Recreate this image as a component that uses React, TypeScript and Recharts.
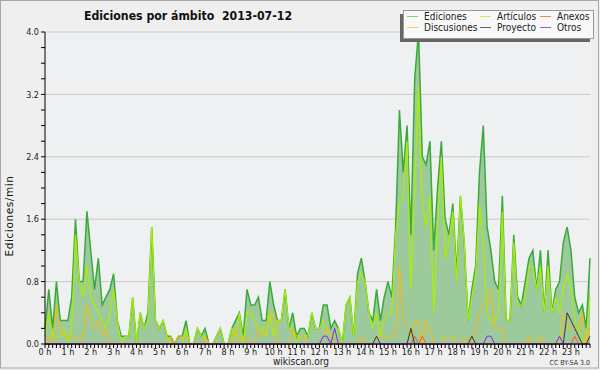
import React from 'react';
import { ComposedChart, Area, Line, XAxis, YAxis, CartesianGrid } from 'recharts';

// 10-minute buckets, 144 per day (edits per minute)
const hourLabels = [
  '0 h', '1 h', '2 h', '3 h', '4 h', '5 h', '6 h', '7 h', '8 h', '9 h', '10 h', '11 h',
  '12 h', '13 h', '14 h', '15 h', '16 h', '17 h', '18 h', '19 h', '20 h', '21 h', '22 h', '23 h',
];
const yTickLabels = ['0.0', '0.8', '1.6', '2.4', '3.2', '4.0'];

const ediciones = [
  0.2, 0.7, 0.2, 0.8, 0.3, 0.3, 0.3, 0.6, 1.6, 0.8, 0.8, 1.7,
  1.2, 0.7, 1.1, 0.5, 0.6, 0.7, 0.9, 0.3, 0.1, 0.1, 0.1, 0.6,
  0.0, 0.4, 0.2, 0.4, 1.5, 0.3, 0.2, 0.3, 0.1, 0.1, 0.0, 0.1,
  0.1, 0.3, 0.0, 0.0, 0.2, 0.1, 0.2, 0.0, 0.0, 0.1, 0.2, 0.0,
  0.0, 0.2, 0.3, 0.4, 0.1, 0.7, 0.5, 0.5, 0.6, 0.3, 0.3, 0.8,
  0.5, 0.3, 0.3, 0.7, 0.2, 0.4, 0.1, 0.2, 0.2, 0.1, 0.4, 0.2,
  0.2, 0.5, 0.5, 0.2, 0.3, 0.2, 0.0, 0.5, 0.6, 0.1, 0.9, 1.1,
  0.8, 0.4, 0.3, 0.7, 0.3, 0.6, 0.8, 0.6, 1.5, 3.0, 2.2, 2.8,
  1.4, 3.4, 4.0, 2.4, 2.3, 2.6, 1.2, 2.0, 2.6, 1.6, 1.4, 1.8,
  0.9, 1.9, 1.3, 0.3, 0.7, 1.0, 2.2, 2.8, 1.5, 1.2, 0.8, 0.7,
  1.9, 0.3, 0.3, 1.4, 0.6, 0.5, 0.8, 1.1, 1.2, 0.7, 1.2, 0.4,
  1.2, 0.4, 0.7, 0.8, 1.3, 1.5, 1.2, 0.6, 0.4, 0.5, 0.2, 1.1,
];

const articulos = [
  0.1, 0.4, 0.1, 0.1, 0.1, 0.2, 0.0, 0.2, 1.4, 0.8, 0.6, 1.0,
  0.6, 0.5, 0.4, 0.3, 0.2, 0.4, 0.7, 0.3, 0.0, 0.1, 0.1, 0.6,
  0.0, 0.4, 0.2, 0.3, 1.5, 0.3, 0.2, 0.3, 0.1, 0.0, 0.0, 0.0,
  0.0, 0.2, 0.0, 0.0, 0.2, 0.1, 0.1, 0.0, 0.0, 0.1, 0.2, 0.0,
  0.0, 0.2, 0.1, 0.4, 0.0, 0.4, 0.4, 0.3, 0.2, 0.2, 0.1, 0.4,
  0.1, 0.3, 0.3, 0.7, 0.2, 0.2, 0.0, 0.1, 0.1, 0.1, 0.4, 0.2,
  0.2, 0.3, 0.2, 0.1, 0.1, 0.2, 0.0, 0.5, 0.6, 0.1, 0.8, 0.9,
  0.8, 0.4, 0.2, 0.4, 0.1, 0.3, 0.4, 0.4, 1.4, 1.8, 1.9, 2.6,
  0.7, 2.0, 3.3, 1.8, 1.5, 1.9, 0.4, 1.5, 2.4, 1.1, 1.3, 1.7,
  0.8, 1.9, 1.3, 0.3, 0.6, 0.9, 1.8, 1.3, 0.4, 0.3, 0.3, 0.4,
  1.7, 0.3, 0.3, 1.3, 0.5, 0.5, 0.6, 1.0, 1.0, 0.7, 1.0, 0.4,
  1.0, 0.4, 0.6, 0.4, 0.7, 0.9, 0.7, 0.3, 0.2, 0.0, 0.1, 0.6,
];

const discusiones = [
  0.0, 0.1, 0.0, 0.5, 0.2, 0.1, 0.1, 0.1, 0.1, 0.0, 0.1, 0.5,
  0.3, 0.2, 0.3, 0.1, 0.2, 0.0, 0.0, 0.0, 0.0, 0.0, 0.0, 0.0,
  0.0, 0.0, 0.0, 0.0, 0.0, 0.0, 0.0, 0.0, 0.0, 0.1, 0.0, 0.1,
  0.1, 0.1, 0.0, 0.0, 0.0, 0.0, 0.1, 0.0, 0.0, 0.0, 0.0, 0.0,
  0.0, 0.0, 0.2, 0.0, 0.1, 0.1, 0.0, 0.0, 0.2, 0.1, 0.2, 0.4,
  0.4, 0.0, 0.0, 0.0, 0.0, 0.2, 0.1, 0.1, 0.1, 0.0, 0.0, 0.0,
  0.0, 0.1, 0.2, 0.1, 0.0, 0.0, 0.0, 0.0, 0.0, 0.0, 0.0, 0.1,
  0.0, 0.0, 0.0, 0.1, 0.1, 0.1, 0.1, 0.1, 0.1, 1.0, 0.3, 0.2,
  0.1, 0.3, 0.3, 0.0, 0.3, 0.2, 0.0, 0.0, 0.0, 0.1, 0.1, 0.1,
  0.0, 0.0, 0.1, 0.0, 0.0, 0.2, 0.4, 0.5, 0.6, 0.7, 0.2, 0.2,
  0.2, 0.0, 0.0, 0.0, 0.0, 0.0, 0.0, 0.1, 0.0, 0.0, 0.1, 0.0,
  0.0, 0.0, 0.0, 0.0, 0.4, 0.2, 0.2, 0.2, 0.2, 0.4, 0.0, 0.2,
];

const anexos = [
  0, 0, 0, 0, 0, 0, 0, 0, 0, 0, 0, 0,
  0, 0, 0, 0, 0, 0, 0, 0, 0, 0, 0, 0,
  0, 0, 0, 0, 0, 0, 0, 0, 0, 0, 0, 0,
  0, 0, 0, 0, 0, 0, 0, 0, 0, 0, 0, 0,
  0, 0, 0, 0, 0, 0, 0, 0, 0, 0, 0, 0,
  0, 0, 0, 0, 0, 0, 0, 0, 0, 0, 0, 0,
  0, 0, 0, 0, 0, 0, 0, 0, 0, 0, 0, 0,
  0, 0, 0, 0, 0, 0, 0, 0, 0, 0, 0, 0,
  0, 0.1, 0, 0.1, 0, 0, 0, 0, 0, 0, 0, 0,
  0, 0, 0, 0, 0, 0, 0, 0, 0, 0, 0, 0,
  0, 0, 0, 0, 0, 0, 0, 0, 0, 0, 0, 0,
  0, 0, 0, 0, 0, 0, 0, 0.1, 0, 0, 0, 0,
];

const proyecto = [
  0, 0, 0, 0, 0, 0, 0, 0, 0, 0, 0, 0,
  0, 0, 0, 0, 0, 0, 0, 0, 0, 0, 0, 0,
  0, 0, 0, 0, 0, 0, 0, 0, 0, 0, 0, 0,
  0, 0, 0, 0, 0, 0, 0, 0, 0, 0, 0, 0,
  0, 0, 0, 0, 0, 0, 0, 0, 0, 0, 0, 0,
  0, 0, 0, 0, 0, 0, 0, 0, 0, 0, 0, 0,
  0, 0, 0, 0, 0, 0, 0, 0, 0, 0, 0, 0,
  0, 0, 0, 0.1, 0, 0, 0, 0, 0, 0, 0, 0,
  0.2, 0, 0, 0, 0, 0, 0, 0, 0, 0, 0, 0,
  0, 0, 0, 0, 0.1, 0, 0, 0, 0, 0, 0, 0,
  0, 0, 0, 0, 0, 0, 0, 0, 0, 0, 0, 0,
  0, 0, 0, 0, 0, 0.4, 0.3, 0.2, 0.1, 0, 0, 0.1,
];

const otros = [
  0, 0, 0, 0, 0, 0, 0, 0, 0, 0, 0, 0,
  0, 0, 0, 0, 0, 0, 0, 0, 0, 0, 0, 0,
  0, 0, 0, 0, 0, 0, 0, 0, 0, 0, 0, 0,
  0, 0, 0, 0, 0, 0, 0, 0, 0, 0, 0, 0,
  0, 0, 0, 0, 0, 0, 0, 0, 0, 0, 0, 0,
  0, 0, 0, 0, 0, 0, 0, 0, 0, 0, 0, 0,
  0, 0.1, 0.1, 0, 0.2, 0, 0, 0, 0, 0, 0, 0,
  0, 0, 0, 0, 0, 0, 0, 0, 0, 0, 0, 0,
  0, 0, 0, 0, 0, 0, 0, 0, 0, 0, 0, 0,
  0, 0, 0, 0, 0, 0, 0, 0, 0.1, 0.1, 0, 0,
  0, 0, 0, 0, 0, 0, 0, 0, 0, 0, 0, 0,
  0, 0, 0, 0.1, 0, 0, 0, 0, 0, 0, 0, 0,
];

const seriesNames = ['Ediciones', 'Artículos', 'Anexos', 'Discusiones', 'Proyecto', 'Otros'];

const COLORS: Record<string, string> = {
  Ediciones: '#3aaa3a',
  Artículos: '#aaee00',
  Anexos: '#ff5522',
  Discusiones: '#ffbb00',
  Proyecto: '#333333',
  Otros: '#8822ee',
};
const LEGEND_COLORS: Record<string, string> = {
  Ediciones: '#88cc88',
  Artículos: '#c4ee66',
  Anexos: '#ee8855',
  Discusiones: '#ffcc44',
  Proyecto: '#666666',
  Otros: '#9955ee',
};

const STEPS_PER_HOUR = 6;
const data = ediciones.map((v, i) => ({
  i,
  ediciones: v,
  articulos: articulos[i],
  discusiones: discusiones[i],
  anexos: anexos[i],
  proyecto: proyecto[i],
  otros: otros[i],
}));
const xTicks = data.map((d) => d.i);
const yMajor = yTickLabels.map((s) => parseFloat(s));
const yTicks = Array.from({ length: 21 }, (_, k) => k / 5);

const FONT = '"DejaVu Sans Condensed", "DejaVu Sans", sans-serif';

export default function App() {
  const legendCols = [407, 480, 540];
  const legendRows = [20, 31];
  return (
    <div
      style={{
        position: 'absolute',
        left: 0,
        top: 0,
        width: 600,
        height: 370,
        background: '#efefef',
        fontFamily: FONT,
        overflow: 'hidden',
      }}
    >
      <ComposedChart
        width={600}
        height={370}
        data={data}
        margin={{ top: 32, right: 10, left: 0, bottom: 0 }}
        style={{ fontFamily: FONT }}
      >
        <CartesianGrid
          vertical={false}
          horizontalValues={yMajor}
          fill="#eef0f2"
          fillOpacity={1}
          stroke="#c9c9c9"
        />
        <XAxis
          dataKey="i"
          type="number"
          domain={[0, xTicks.length - 1]}
          ticks={xTicks}
          interval={0}
          height={26}
          tickSize={4}
          tickMargin={1}
          axisLine={{ stroke: '#000' }}
          tickLine={{ stroke: '#000' }}
          tick={{ fontSize: 9, fill: '#222', fontFamily: FONT }}
          tickFormatter={(v: number) => (v % STEPS_PER_HOUR === 0 ? hourLabels[v / STEPS_PER_HOUR] : '')}
        />
        <YAxis
          type="number"
          domain={[0, 4]}
          ticks={yTicks}
          interval={0}
          width={45}
          tickSize={4}
          tickMargin={2}
          axisLine={{ stroke: '#000' }}
          tickLine={{ stroke: '#000' }}
          tick={{ fontSize: 9, fill: '#222', fontFamily: FONT }}
          tickFormatter={(v: number, idx: number) => (idx % 4 === 0 ? yTickLabels[idx / 4] : '')}
        />
        <Area
          type="linear"
          dataKey="ediciones"
          stroke={COLORS.Ediciones}
          strokeWidth={1.5}
          fill="#9dca9d"
          fillOpacity={1}
          dot={false}
          activeDot={false}
          isAnimationActive={false}
        />
        <Line type="linear" dataKey="articulos" stroke={COLORS['Artículos']} strokeWidth={1.2} dot={false} activeDot={false} isAnimationActive={false} />
        <Line type="linear" dataKey="discusiones" stroke={COLORS.Discusiones} strokeWidth={1} dot={false} activeDot={false} isAnimationActive={false} />
        <Line type="linear" dataKey="anexos" stroke={COLORS.Anexos} strokeWidth={1} dot={false} activeDot={false} isAnimationActive={false} />
        <Line type="linear" dataKey="proyecto" stroke={COLORS.Proyecto} strokeWidth={1} dot={false} activeDot={false} isAnimationActive={false} />
        <Line type="linear" dataKey="otros" stroke={COLORS.Otros} strokeWidth={1} dot={false} activeDot={false} isAnimationActive={false} />
      </ComposedChart>
      <svg
        width={600}
        height={370}
        style={{ position: 'absolute', left: 0, top: 0, pointerEvents: 'none', fontFamily: FONT }}
      >
        <rect x={0.5} y={0.5} width={598} height={367.5} fill="none" stroke="#a8a8a8" />
        <text x={188} y={19.5} textAnchor="middle" fontSize={12.2} fontWeight="bold" fill="#111" style={{ whiteSpace: 'pre' }}>
          {'Ediciones por ámbito  2013-07-12'}
        </text>
        <text
          transform="translate(13.3,216) rotate(-90)"
          textAnchor="middle"
          fontSize={10.5}
          fill="#111"
          style={{ fontFamily: '"DejaVu Sans", sans-serif', letterSpacing: 0.6 }}
        >
          Ediciones/min
        </text>
        <text x={301} y={365} textAnchor="middle" fontSize={10} fill="#222">
          wikiscan.org
        </text>
        <text x={590} y={365} textAnchor="end" fontSize={7} fill="#333">
          CC BY-SA 3.0
        </text>
        {/* legend */}
        <rect x={400} y={14} width={190} height={28} fill="#666" />
        <rect x={403.5} y={10.5} width={190} height={28} fill="#f8f8f8" stroke="#999" />
        {seriesNames.map((name, k) => {
          const col = k % 3;
          const row = Math.floor(k / 3);
          const x = legendCols[col];
          const y = legendRows[row];
          return (
            <g key={name}>
              <line x1={x} x2={x + 11} y1={y - 3.5} y2={y - 3.5} stroke={LEGEND_COLORS[name]} strokeWidth={1} />
              <text x={x + 17} y={y} fontSize={10} fill="#222">
                {name}
              </text>
            </g>
          );
        })}
      </svg>
    </div>
  );
}
